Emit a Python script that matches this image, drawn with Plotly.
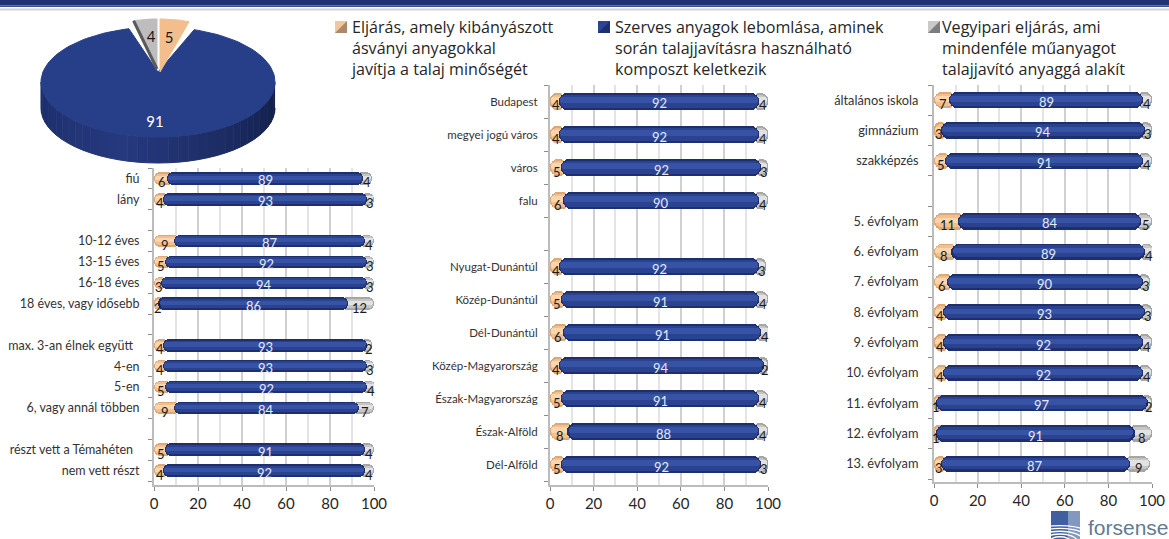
import math
import plotly.graph_objects as go

W, H = 1169, 539
FONT = "Lato"

pie_values = [5, 91, 4]
pie_labels = ["Eljárás", "Szerves", "Vegyipari"]

legend_texts = [
    "Eljárás, amely kibányászott<br>ásványi anyagokkal<br>javítja a talaj minőségét",
    "Szerves anyagok lebomlása, aminek<br>során talajjavításra használható<br>komposzt keletkezik",
    "Vegyipari eljárás, ami<br>mindenféle műanyagot<br>talajjavító anyaggá alakít",
]

left_labels = ["fiú", "lány", " ", "10-12 éves", "13-15 éves", "16-18 éves", "18 éves, vagy idősebb", "  ",
               "max. 3-an élnek együtt\u00a0\u00a0", "4-en", "5-en", "6, vagy annál többen", "   ",
               "részt vett a Témahéten\u00a0\u00a0", "nem vett részt"]
left_orange = [6, 4, None, 9, 5, 3, 2, None, 4, 4, 5, 9, None, 5, 4]
left_blue = [89, 93, None, 87, 92, 94, 86, None, 93, 93, 92, 84, None, 91, 92]
left_grey = [4, 3, None, 4, 3, 3, 12, None, 2, 3, 4, 7, None, 4, 4]

mid_labels = ["Budapest", "megyei jogú város", "város", "falu", " ", "Nyugat-Dunántúl", "Közép-Dunántúl",
              "Dél-Dunántúl", "Közép-Magyarország", "Észak-Magyarország", "Észak-Alföld", "Dél-Alföld"]
mid_orange = [4, 4, 5, 6, None, 4, 5, 6, 4, 5, 8, 5]
mid_blue = [92, 92, 92, 90, None, 92, 91, 91, 94, 91, 88, 92]
mid_grey = [4, 4, 3, 4, None, 3, 4, 4, 2, 4, 4, 3]

right_labels = ["általános iskola", "gimnázium", "szakképzés", " ", "5. évfolyam", "6. évfolyam", "7. évfolyam",
                "8. évfolyam", "9. évfolyam", "10. évfolyam", "11. évfolyam", "12. évfolyam", "13. évfolyam"]
right_orange = [7, 3, 5, None, 11, 8, 6, 4, 4, 4, 1, 1, 3]
right_blue = [89, 94, 91, None, 84, 89, 90, 93, 92, 92, 97, 91, 87]
right_grey = [4, 3, 4, None, 5, 4, 3, 3, 4, 4, 2, 8, 9]

x_ticks = [0, 20, 40, 60, 80, 100]

BLUE = ["#1e2f6e", "#2a4290", "#3653a5"]
ORANGE = ["#dca877", "#f2bf8e", "#fad5ae"]
GREY = ["#a6a6a6", "#c6c6c6", "#e2e2e2"]

fig = go.Figure()
annotations = []


def axis_names(i):
    return ("x" if i == 1 else f"x{i}"), ("y" if i == 1 else f"y{i}")


def pill_layers(thick):
    return [(thick, 0.0, 0), (thick * 0.72, -thick * 0.02, 1), (thick * 0.34, -thick * 0.06, 2)]


def add_chart(i, labels, a, b, c, x0, x1, y0, y1, axis_y, thick, fs_label, stand):
    xa, ya = axis_names(i)
    idx = [k for k, v in enumerate(b) if v is not None]
    cats = [labels[k] for k in idx]
    A = [a[k] for k in idx]
    B = [b[k] for k in idx]
    C = [c[k] for k in idx]

    def bar(x, base, col, w, off):
        fig.add_trace(go.Bar(x=x, y=cats, base=base, orientation="h", width=w, offset=off - w / 2,
                             marker=dict(color=col, cornerradius="50%", line=dict(width=0)),
                             xaxis=xa, yaxis=ya, showlegend=False, hoverinfo="skip"))

    for w, off, n in pill_layers(thick):
        inset = 0.5 if n else 0
        bar([v + 3 - inset for v in C], [p + q - 3 for p, q in zip(A, B)], GREY[n], w, off)
        bar([-(v + 3 - inset) for v in A], [v + 3 for v in A], ORANGE[n], w, off)
    for w, off, n in pill_layers(thick):
        inset = 0.5 if n else 0
        bar([q - 2 * inset for q in B], [p + inset for p in A], BLUE[n], w, off)

    for cat, p, q, r in zip(cats, A, B, C):
        for xv, val, col, ys in [
            (p / 2 + 0.6, p, "#1a1a1a", -4),
            (p + q / 2, q, "#e6eaf5", -2),
            (p + q + r / 2 - 0.4, r, "#1a1a1a", -4),
        ]:
            annotations.append(dict(text=str(val), x=xv, y=cat, xref=xa, yref=ya, yshift=ys, showarrow=False,
                                    font=dict(family=FONT, size=13, color=col)))

    n_rows = len(labels)
    row = (y1 - y0) / n_rows
    extra = (axis_y - y1) / row
    xkey = "xaxis" if i == 1 else f"xaxis{i}"
    ykey = "yaxis" if i == 1 else f"yaxis{i}"
    fig.layout[xkey] = dict(domain=[x0 / W, x1 / W], range=[0, 100], anchor=ya, tickmode="array", automargin=False,
                            tickvals=x_ticks, ticktext=[str(v) for v in x_ticks], ticks="outside", ticklen=4,
                            tickcolor="#8c8c8c", showline=True, linecolor="#bcbcbc", linewidth=2,
                            showgrid=True, gridcolor="#d0d0d0", gridwidth=2, zeroline=False,
                            minor=dict(tickmode="linear", tick0=0, dtick=10, showgrid=True,
                                       gridcolor="#e4e4e4", gridwidth=2),
                            tickfont=dict(family=FONT, size=15, color="#262626"), ticklabelstandoff=0)
    fig.layout[ykey] = dict(domain=[1 - axis_y / H, 1 - y0 / H], type="category", categoryorder="array",
                            automargin=False, categoryarray=labels, tickmode="array", tickvals=labels, ticktext=labels,
                            range=[n_rows - 0.5 + extra, -0.5], anchor=xa, tickson="boundaries",
                            ticks="outside", ticklen=4, tickcolor="#8c8c8c", showline=True,
                            linecolor="#bcbcbc", linewidth=2, showgrid=False, zeroline=False,
                            tickfont=dict(family=FONT, size=fs_label, color="#333333"), ticklabelstandoff=stand)


add_chart(1, left_labels, left_orange, left_blue, left_grey, 154, 374, 168, 481, 485, 0.6, 12.5, 10)
add_chart(2, mid_labels, mid_orange, mid_blue, mid_grey, 550, 768, 85, 481, 485, 0.54, 11.5, 8)
add_chart(3, right_labels, right_orange, right_blue, right_grey, 934, 1152, 85, 479, 482, 0.54, 12.8, 11)

PX, PY = "x4", "y4"
CX, CY, RX, RY, DEPTH = 158, 82, 117, 55, 26
APEX = (158, 72)
fig.layout["xaxis4"] = dict(domain=[0, 1], range=[0, W], visible=False, anchor="y4", fixedrange=True, automargin=False)
fig.layout["yaxis4"] = dict(domain=[0, 1], range=[H, 0], visible=False, anchor="x4", fixedrange=True, automargin=False)


def poly(xs, ys, col, line=None):
    fig.add_trace(go.Scatter(x=xs, y=ys, mode="lines", fill="toself", fillcolor=col,
                             line=dict(color=line or col, width=1), xaxis=PX, yaxis=PY,
                             showlegend=False, hoverinfo="skip"))


def mix(c1, c2, t):
    p = [int(c1[i:i + 2], 16) for i in (1, 3, 5)]
    q = [int(c2[i:i + 2], 16) for i in (1, 3, 5)]
    return "#" + "".join(f"{round(u + (v - u) * t):02x}" for u, v in zip(p, q))


total = sum(pie_values)
ang_orange = 360 * pie_values[0] / total
ang_grey = 360 * pie_values[2] / total
start, end = ang_orange, 360 - ang_grey

STEPS = 36
for s in range(STEPS):
    t0 = 90 + 180 * s / STEPS
    t1 = 90 + 180 * (s + 1) / STEPS
    f = (s + 0.5) / STEPS
    col = mix("#111d46", "#26397e", f / 0.6) if f < 0.6 else mix("#26397e", "#1b2c68", (f - 0.6) / 0.4)
    xs, ys = [], []
    for t in (t0, t1):
        xs.append(CX + RX * math.sin(math.radians(t)))
        ys.append(CY - RY * math.cos(math.radians(t)))
    for t in (t1, t0):
        xs.append(CX + RX * math.sin(math.radians(t)))
        ys.append(CY - RY * math.cos(math.radians(t)) + DEPTH)
    poly(xs, ys, col)

N = 140
xs, ys = [APEX[0]], [APEX[1]]
for k in range(N + 1):
    t = math.radians(start + (end - start) * k / N)
    xs.append(CX + RX * math.sin(t))
    ys.append(CY - RY * math.cos(t))
poly(xs + [APEX[0]], ys + [APEX[1]], "#273e88")


def small_wedge(a0, a1, ax, ay, col):
    xs, ys = [ax], [ay]
    for k in range(13):
        t = math.radians(a0 + (a1 - a0) * k / 12)
        xs.append(ax + 94 * math.sin(t))
        ys.append(74 - 55 * math.cos(t))
    poly(xs + [ax], ys + [ay], col)
    return xs, ys


small_wedge(0, ang_orange, 160, 72, "#f4bd8c")
gx, gy = small_wedge(-ang_grey, 0, 157, 69, "#bdbdbd")
fig.add_trace(go.Scatter(x=[gx[1], gx[0]], y=[gy[1], gy[0]], mode="lines", line=dict(color="#5a5a5a", width=3),
                         xaxis=PX, yaxis=PY, showlegend=False, hoverinfo="skip"))

fig.add_trace(go.Scatter(x=[169, 155, 151], y=[39, 123, 38], mode="text", text=[str(v) for v in pie_values],
                         textfont=dict(family=FONT, size=15, color=["#1a1a1a", "#ffffff", "#1a1a1a"]),
                         xaxis=PX, yaxis=PY, showlegend=False, hoverinfo="skip"))


def px(x):
    return x / W


def py(y):
    return 1 - y / H


shapes = [
    dict(type="rect", x0=0, x1=1, y0=py(5.5), y1=py(0), xref="paper", yref="paper", fillcolor="#1f3272", line_width=0),
    dict(type="rect", x0=0, x1=1, y0=py(7), y1=py(5.5), xref="paper", yref="paper", fillcolor="#3b4f8c", line_width=0),
    dict(type="rect", x0=0, x1=1, y0=py(10.5), y1=py(8.5), xref="paper", yref="paper", fillcolor="#d2d2d2", line_width=0),
]


def legend_square(x, y, c1, c2):
    s = 12
    shapes.append(dict(type="rect", x0=px(x), x1=px(x + s), y0=py(y + s), y1=py(y), xref="paper", yref="paper",
                       fillcolor=c1, line_width=0))
    path = f"M {px(x)} {py(y + s)} L {px(x + s)} {py(y)} L {px(x + s)} {py(y + s)} Z"
    shapes.append(dict(type="path", path=path, xref="paper", yref="paper", fillcolor=c2, line_width=0))


legend_square(335, 21, "#f3c79e", "#a98a6c")
legend_square(598, 21, "#2c4694", "#1d2f6e")
legend_square(928, 21, "#c9c9c9", "#7d7d7d")

for text, lx in zip(legend_texts, [349, 613, 940]):
    annotations.append(dict(text=text, xref="paper", yref="paper", x=px(lx), y=py(14.5), xanchor="left", yanchor="top",
                            align="left", showarrow=False, font=dict(family="Open Sans", size=16.1, color="#262626")))

# logo
shapes.append(dict(type="rect", x0=px(1051), x1=px(1080), y0=py(539), y1=py(511), xref="paper", yref="paper",
                   fillcolor="#3f5f9e", line_width=0))
shapes.append(dict(type="rect", x0=px(1068), x1=px(1080), y0=py(539), y1=py(511), xref="paper", yref="paper",
                   fillcolor="#8398c0", line_width=0))
for r in (6, 10, 14, 18, 22):
    shapes.append(dict(type="circle", x0=px(1060 - 1.7 * r), x1=px(1060 + 1.7 * r), y0=py(541 + r * 0.7),
                       y1=py(541 - r * 0.7), xref="paper", yref="paper", line=dict(color="#ffffff", width=1.4),
                       fillcolor="rgba(0,0,0,0)"))
shapes.append(dict(type="rect", x0=px(1015), x1=px(1051), y0=py(539), y1=py(511), xref="paper", yref="paper",
                   fillcolor="#ffffff", line_width=0))
shapes.append(dict(type="rect", x0=px(1080), x1=px(1110), y0=py(539), y1=py(511), xref="paper", yref="paper",
                   fillcolor="#ffffff", line_width=0))
annotations.append(dict(text="forsense", xref="paper", yref="paper", x=px(1086), y=py(527), xanchor="left",
                        yanchor="middle", showarrow=False,
                        font=dict(family="Liberation Sans", size=21, color="#627b90")))

fig.update_layout(width=W, height=H, margin=dict(l=0, r=0, t=0, b=0), barmode="overlay", bargap=0,
                  paper_bgcolor="#ffffff", plot_bgcolor="rgba(0,0,0,0)", showlegend=False,
                  shapes=shapes, annotations=annotations, font=dict(family=FONT))

fig.write_html("out.html", config=dict(displayModeBar=False),
               post_script="document.body.style.margin='0';")
